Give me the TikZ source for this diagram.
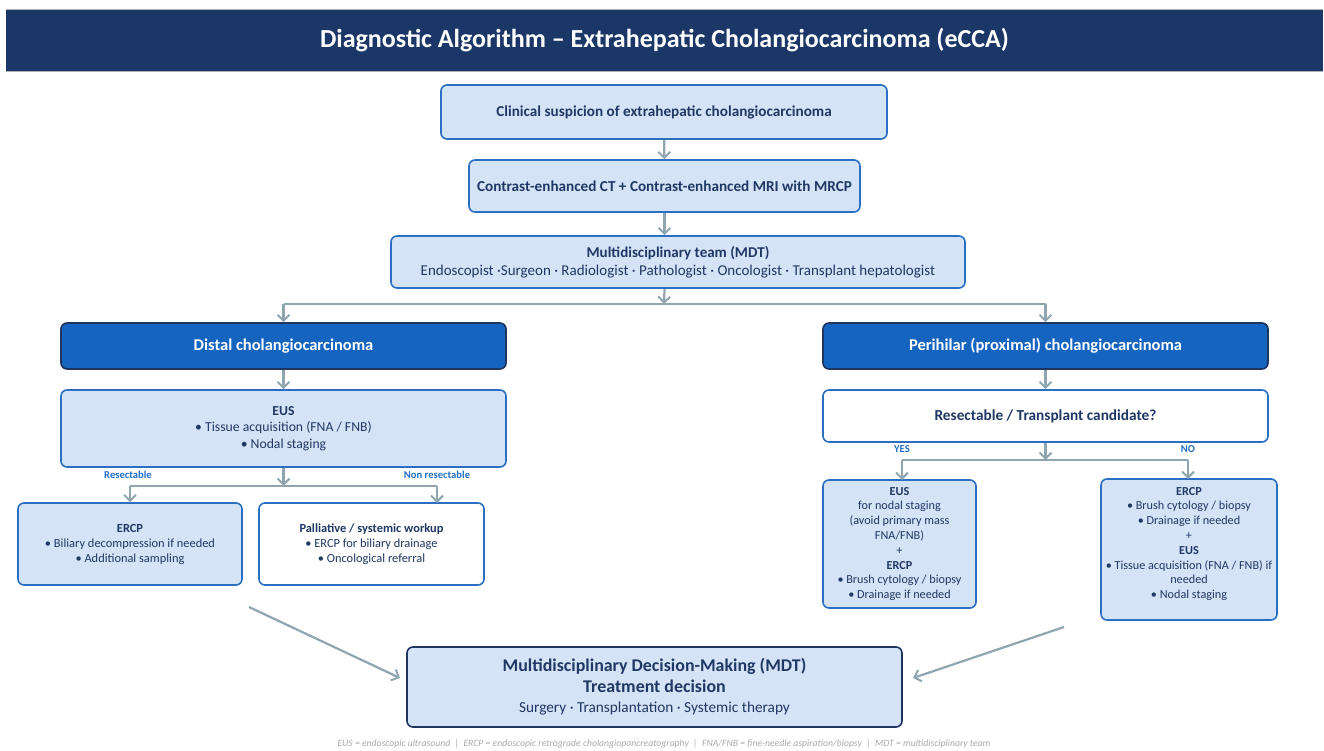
\documentclass[tikz,border=0pt]{standalone}
\usepackage{fontspec}
\setmainfont{Carlito}
\usetikzlibrary{arrows.meta}
\definecolor{navybar}{HTML}{1B3768}
\definecolor{bblue}{HTML}{2A6FC4}
\definecolor{lfill}{HTML}{D5E3F6}
\definecolor{dfill}{HTML}{1565C0}
\definecolor{dborder}{HTML}{1F3560}
\definecolor{tnavy}{HTML}{1F3864}
\definecolor{agray}{HTML}{8FA5B0}
\definecolor{lblue}{HTML}{1F6FC5}
\definecolor{fgray}{HTML}{A8A8A8}
\tikzset{
  box/.style={draw=bblue, line width=1.6pt, rounded corners=6pt, fill=lfill, align=center, text=tnavy, inner sep=0pt},
  wbox/.style={box, fill=white},
  dbox/.style={box, draw=dborder, fill=dfill, text=white, font=\bfseries\fontsize{16.5}{19}\selectfont},
  arr/.style={draw=agray, line width=2.2pt, -{Straight Barb[length=6pt,width=12pt,line width=2pt]}},
  ln/.style={draw=agray, line width=2.2pt},
  lab/.style={text=lblue, font=\bfseries\fontsize{10.6}{12}\selectfont, inner sep=0pt}
}
\begin{document}
\begin{tikzpicture}[x=1pt,y=-1pt]
\useasboundingbox (0,0) rectangle (1324,751);
% title
\fill[gray!60] (6,9) rectangle (1323,72);
\node[fill=navybar, minimum width=1317pt, minimum height=61pt, inner sep=0pt, text=white,
  font=\bfseries\fontsize{26}{30}\selectfont] (title) at (664.5,40.5) {Diagnostic Algorithm -- Extrahepatic Cholangiocarcinoma (eCCA)};

\node[box, minimum width=446pt, minimum height=54pt, font=\bfseries\fontsize{15.2}{18}\selectfont] (b1) at (664,112) {Clinical suspicion of extrahepatic cholangiocarcinoma};
\node[box, minimum width=391pt, minimum height=52pt, font=\bfseries\fontsize{15.2}{18}\selectfont] (b2) at (664.5,186) {Contrast-enhanced CT + Contrast-enhanced MRI with MRCP};
\node[box, minimum width=574pt, minimum height=52pt, font=\fontsize{15}{18.5}\selectfont] (b3) at (678,262) {{\bfseries\fontsize{15}{18.5}\selectfont Multidisciplinary team (MDT)}\\Endoscopist ·Surgeon · Radiologist · Pathologist · Oncologist · Transplant hepatologist};

\node[dbox, minimum width=445pt, minimum height=46pt] (dist) at (283.5,346) {Distal cholangiocarcinoma};
\node[dbox, minimum width=445pt, minimum height=46pt] (peri) at (1045.5,346) {Perihilar (proximal) cholangiocarcinoma};

\node[box, minimum width=445pt, minimum height=77pt, font=\fontsize{13.7}{16.5}\selectfont] (eus) at (283.5,428.5) {{\bfseries EUS}\\• Tissue acquisition (FNA / FNB)\\• Nodal staging};
\node[box, minimum width=224pt, minimum height=82pt, font=\fontsize{12.4}{15}\selectfont] (ercp) at (130,544) {{\bfseries ERCP}\\• Biliary decompression if needed\\• Additional sampling};
\node[wbox, minimum width=225pt, minimum height=82pt, font=\fontsize{12.4}{15}\selectfont] (pall) at (371.5,544) {{\bfseries Palliative / systemic workup}\\• ERCP for biliary drainage\\• Oncological referral};

\node[wbox, minimum width=445pt, minimum height=52pt, font=\bfseries\fontsize{15.3}{18}\selectfont] (rq) at (1045.5,416) {Resectable / Transplant candidate?};
\node[box, minimum width=153pt, minimum height=128pt, font=\fontsize{12.2}{14.8}\selectfont] (reus) at (899.5,544) {{\bfseries EUS}\\for nodal staging\\(avoid primary mass\\FNA/FNB)\\+\\{\bfseries ERCP}\\• Brush cytology / biopsy\\• Drainage if needed};
\node[box, minimum width=176pt, minimum height=141pt] (rno) at (1189,549.5) {};
\node[align=center, text=tnavy, inner sep=0pt, font=\fontsize{12.2}{14.8}\selectfont] (rnotext) at ([yshift=5.5pt]rno.center) {{\bfseries ERCP}\\• Brush cytology / biopsy\\• Drainage if needed\\+\\{\bfseries EUS}\\• Tissue acquisition (FNA / FNB) if\\needed\\• Nodal staging};

\node[box, draw=dborder, minimum width=495pt, minimum height=80pt, font=\fontsize{15.3}{20.5}\selectfont] (fin) at (654.5,687) {{\bfseries\fontsize{17.9}{22}\selectfont Multidisciplinary Decision-Making (MDT)}\\{\bfseries\fontsize{17.9}{22}\selectfont Treatment decision}\\Surgery · Transplantation · Systemic therapy};

\node[text=fgray, font=\itshape\fontsize{9.7}{11}\selectfont, inner sep=0pt] (foot) at (664,744) {EUS = endoscopic ultrasound \ | \ ERCP = endoscopic retrograde cholangiopancreatography \ | \ FNA/FNB = fine-needle aspiration/biopsy \ | \ MDT = multidisciplinary team};

% connectors
\draw[arr] (b1) -- (b2);
\draw[arr] (b2) -- (b3.north -| b2);
\coordinate (s1) at (664,304);
\draw[arr] (b3.south -| b2) -- (s1);
\draw[ln] (s1 -| dist) -- (s1 -| peri);
\draw[arr] (s1 -| dist) -- (dist);
\draw[arr] (s1 -| peri) -- (peri);

\draw[arr] (dist) -- (eus);
\coordinate (s2) at (283.5,486);
\draw[arr] (eus) -- (s2);
\coordinate (np) at (437,503);
\draw[ln] (s2 -| ercp) -- (s2 -| np);
\draw[arr] (s2 -| ercp) -- (ercp);
\draw[arr] (s2 -| np) -- (np);
\node[lab] (lres) at (128,475) {Resectable};
\node[lab] (lnon) at (437,475) {Non resectable};

\draw[arr] (peri) -- (rq);
\coordinate (s3) at (1045.5,460);
\draw[arr] (rq) -- (s3);
\coordinate (ya) at (902,480);
\coordinate (na) at (1188,479);
\draw[ln] (s3 -| ya) -- (s3 -| na);
\draw[arr] (s3 -| ya) -- (ya);
\draw[arr] (s3 -| na) -- (na);
\node[lab] (lyes) at (902,449) {YES};
\node[lab] (lno) at (1188,449) {NO};

\coordinate (d1) at (249,607);
\coordinate (d2) at (1064,627);
\coordinate (e1) at (400,678);
\coordinate (e2) at (913,678);
\draw[arr] (d1) -- (e1);
\draw[arr] (d2) -- (e2);
\end{tikzpicture}
\end{document}
